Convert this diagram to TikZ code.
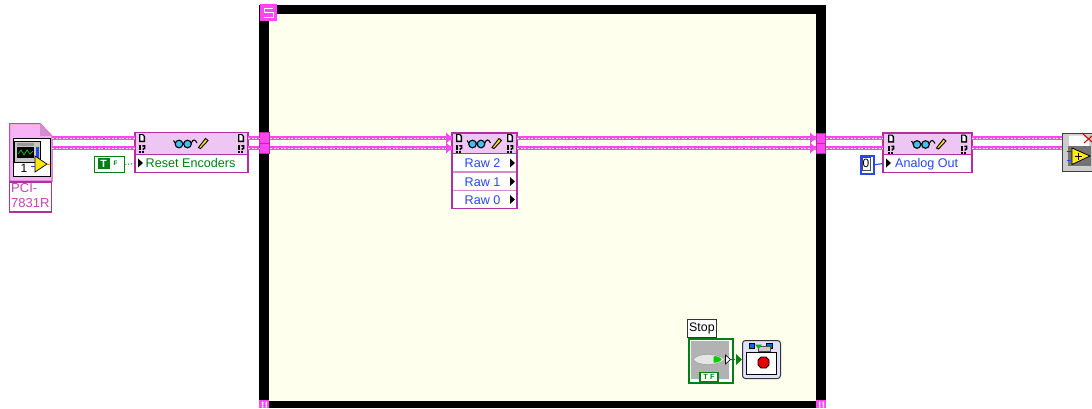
\documentclass[tikz,border=0pt]{standalone}
\usepackage{fontspec}
\setmainfont{Liberation Sans}
\usetikzlibrary{arrows.meta,calc}
\definecolor{refpink}{RGB}{255,70,240}
\definecolor{refborder}{RGB}{176,48,160}
\definecolor{refhead}{RGB}{238,198,243}
\definecolor{refpanel}{RGB}{255,255,238}
\definecolor{refgreen}{RGB}{0,128,20}
\definecolor{refblue}{RGB}{40,70,235}
\definecolor{reflabel}{RGB}{190,70,180}
\tikzset{
  x=1pt,y=-1pt,
  box/.style={draw=refborder,line width=1.1pt,inner sep=0,outer sep=0,anchor=north west},
  headbox/.style={box,fill=refhead},
  rowbox/.style={box,fill=white},
  tunnelbox/.style={draw=refborder,fill=refpink,line width=.7pt,inner sep=0,outer sep=0,anchor=north west,minimum width=10pt,minimum height=10.5pt},
  rowtext/.style={font=\fontsize{12.6}{14}\selectfont,inner sep=0,anchor=base west},
  wirebase/.style={draw=refpink,line width=4.4pt},
  wiretop/.style={draw=white!85!refpink,line width=1pt,dash pattern=on 2pt off 1.5pt},
  tip/.style={fill=black,draw=none},
  pics/cornerglyph/.style={code={
      \fill[black] (-3,-9) -- (1,-9) -- (3,-7) -- (3,-1) -- (-3,-1) -- cycle;
      \fill[white] (-1.6,-7.8) -- (.4,-7.8) -- (1.7,-6.4) -- (1.7,-2.3) -- (-1.6,-2.3) -- cycle;
      \fill[black] (-3.2,2) rectangle (-1.2,7);
      \fill[black] (-3.2,8) rectangle (-1.2,10);
      \draw[black,line width=1.4pt] (.3,2.8) -- (2.6,2.8) -- (2.6,5.4) -- (1.2,5.9) -- (1.2,7);
      \fill[black] (.3,8) rectangle (2.2,10);
  }},
  pics/glasses/.style={code={
    \draw[black,fill=cyan!75!white,line width=1.1pt] (-12,1) circle (3.8) (-3.5,1) circle (3.8);
    \draw[black,line width=1.1pt] (-8.2,0) -- (-7.3,0) (-15.8,0) -- (-17.5,-2.5) (.3,0) .. controls (2,-4) and (4,-4) .. (6,0);
    \fill[yellow!90!orange,draw=black,line width=.9pt] (7.5,4.5) -- (9.5,5.5) -- (17,-2.5) -- (14.5,-4.5) -- cycle;
  }},
}
\begin{document}
\begin{tikzpicture}
\useasboundingbox (0,0) rectangle (1092,408);
\fill[white] (0,0) rectangle (1092,408);

% while loop frame
\node[draw=none,fill=black,inner sep=0,outer sep=0,anchor=north west,minimum width=567pt,minimum height=403pt] (loop) at (259,5) {};
\node[fill=refpanel,inner sep=0,anchor=north west,minimum width=547pt,minimum height=387pt] (panel) at (269,14) {};
\node[fill=refpink,inner sep=0,anchor=north west,minimum width=17pt,minimum height=17pt] (seq) at (260,4) {};
\draw[white,line width=.9pt] (273,8) -- (264,8) -- (264,12) -- (273,12) -- (273,17) -- (264,17);
\node[fill=refpink,inner sep=0,anchor=north west,minimum width=10pt,minimum height=8pt] (condL) at (259,400) {};
\node[fill=refpink,inner sep=0,anchor=north west,minimum width=10pt,minimum height=8pt] (condR) at (816,400) {};
\foreach \xx in {261.8,265.5,818.8,822.5}{\fill[white] (\xx,401.5) rectangle +(1.5,4) (\xx,406) rectangle +(1.5,1.5);}

% tunnels
\node[tunnelbox] (tL1) at (259,132.5) {};
\node[tunnelbox] (tL2) at (259,143) {};
\node[tunnelbox,minimum width=9.5pt] (tR1) at (816,133) {};
\node[tunnelbox,minimum width=9.5pt] (tR2) at (816,143) {};

% open reference
\fill[refhead!70!refpink!80!white,draw=refborder!85!white,line width=1pt] (9.5,123.5) -- (40,123.5) -- (52,136) -- (52,181) -- (9.5,181) -- cycle;
\fill[refhead!60!refborder] (40,123.5) -- (40,136) -- (52,136) -- cycle;
\node[draw=black,fill=white,line width=1.2pt,inner sep=0,anchor=north west,minimum width=37pt,minimum height=38pt] (openref) at (12.5,138) {};
\fill[gray!45,draw=black,line width=.8pt] (14.5,141) rectangle (40,162);
\fill[black] (17,147) rectangle (34,158);
\draw[green!80!black,line width=.7pt] (18,154) -- (21,150) -- (24,155) -- (27,150) -- (30,154) -- (33,151);
\fill[gray!80] (17,143) rectangle (34,145.5);
\fill[refblue] (35.5,147) rectangle (38.5,159);
\fill[yellow!90!orange,draw=black,line width=.7pt] (35,156) -- (47,164) -- (35,172) -- cycle;
\draw[refblue,line width=.8pt] (31,166) -- (35,166);
\draw[orange,line width=.8pt] (47,164) -- (50,164);
\node[font=\fontsize{12}{12}\selectfont,inner sep=0] (one) at (24,168) {1};
\node[box,fill=white,minimum width=42pt,minimum height=30pt] (lblbox) at (9.5,182) {};
\node[font=\fontsize{13}{15.5}\selectfont,text=reflabel,inner sep=0,anchor=north west,align=left] (lbl) at (11,183) {PCI-\\7831R};

% property node 1
\node[headbox,minimum width=113pt,minimum height=22pt] (p1h) at (135,132.5) {};
\node[rowbox,minimum width=113pt,minimum height=18pt] (p1r) at (135,154.5) {};
\pic at (142,143) {cornerglyph};
\pic at (241,143) {cornerglyph};
\pic at (191,143) {glasses};
\fill[tip] (138,158.5) -- (143,163) -- (138,167.5) -- cycle;
\node[rowtext,text=refgreen] (p1t) at (145.5,167.5) {Reset Encoders};

% property node 2
\node[headbox,minimum width=65pt,minimum height=20.5pt] (p2h) at (452,133) {};
\node[rowbox,minimum width=65pt,minimum height=18.5pt] (p2a) at (452,153.5) {};
\node[rowbox,minimum width=65pt,minimum height=18.5pt] (p2b) at (452,172) {};
\node[rowbox,minimum width=65pt,minimum height=18pt] (p2c) at (452,190.5) {};
\draw[refborder!55!white,line width=1.1pt] ($(p2b.north west)+(.6,0)$) -- ($(p2b.north east)+(-.6,0)$);
\draw[refborder!55!white,line width=1.1pt] ($(p2c.north west)+(.6,0)$) -- ($(p2c.north east)+(-.6,0)$);
\pic at (459,143) {cornerglyph};
\pic at (510,143) {cornerglyph};
\pic at (484.5,143) {glasses};
\node[rowtext,text=refblue] (r2) at (464.5,167.5) {Raw 2};
\node[rowtext,text=refblue] (r1) at (464.5,186) {Raw 1};
\node[rowtext,text=refblue] (r0) at (464.5,204.5) {Raw 0};
\foreach \yy in {163,181.5,199.5}{\fill[tip] (510,\yy-4.5) -- (515,\yy) -- (510,\yy+4.5) -- cycle;}

% property node 3
\node[headbox,minimum width=89pt,minimum height=21.5pt] (p3h) at (883,133) {};
\node[rowbox,minimum width=89pt,minimum height=18pt] (p3r) at (883,154.5) {};
\pic at (891,143.5) {cornerglyph};
\pic at (964,143.5) {cornerglyph};
\pic at (929,143.5) {glasses};
\fill[tip] (886,158.5) -- (891,163) -- (886,167.5) -- cycle;
\node[rowtext,text=refblue] (p3t) at (895,167.5) {Analog Out};

% close reference
\node[draw=black!75,fill=gray!40,line width=1.1pt,inner sep=0,anchor=north west,minimum width=32pt,minimum height=38pt] (close) at (1062,132.5) {};
\fill[white] (1069,135.5) -- (1083,135.5) -- (1089,141) -- (1089,166) -- (1069,166) -- cycle;
\draw[red!80!black,line width=1pt] (1082,133) -- (1092,142) (1084,143) -- (1092,136);
\fill[black!55] (1068,146) rectangle (1091,166);
\fill[yellow!95!orange,draw=black,line width=.8pt] (1072,148) -- (1090,156) -- (1072,164.5) -- cycle;
\draw[black,line width=.9pt] (1074.5,156) -- (1081.5,156) (1078,152.5) -- (1078,159.5);
\draw[red!75!black,line width=1.2pt] (1066.5,151.5) -- (1072,151.5);
\draw[refblue,line width=1.2pt] (1066.5,160.5) -- (1072,160.5);

% boolean T constant
\node[draw=refgreen,fill=white,line width=1.8pt,inner sep=0,anchor=north west,minimum width=30pt,minimum height=16pt] (tconst) at (93.5,155.5) {};
\node[fill=refgreen,text=white,font=\bfseries\fontsize{10.5}{10.5}\selectfont,inner sep=0,minimum width=12pt,minimum height=11pt] (tlabel) at (103.5,163.5) {T};
\node[text=refgreen,font=\bfseries\fontsize{6.5}{6.5}\selectfont,inner sep=0] (tf) at (115.5,163.5) {F};

% numeric constant
\node[draw=refblue,fill=white,line width=2pt,inner sep=0,anchor=north west,minimum width=13pt,minimum height=17.5pt] (nconst) at (859.5,155) {};
\node[draw=black!70,line width=.5pt,font=\fontsize{12}{12}\selectfont,inner sep=0,minimum width=8pt,minimum height=12.5pt] (zero) at (866,163.8) {0};

% stop control
\node[draw=black!80,fill=white,line width=.9pt,inner sep=0,anchor=north west,minimum width=29pt,minimum height=18pt,font=\fontsize{12.4}{12}\selectfont] (stoplbl) at (687,319) {Stop};
\node[draw=refgreen,fill=white,line width=2pt,inner sep=0,anchor=north west,minimum width=44pt,minimum height=44pt] (stopb) at (688,338) {};
\fill[gray!60] (691,341) rectangle (729,372);
\fill[gray!60] (691,372) rectangle (700,379) (718,372) rectangle (729,379);
\fill[gray!20,draw=gray!70,line width=.8pt] (693,359.5) .. controls (697,352.5) and (718,352.5) .. (725,359.5) .. controls (718,366.5) and (697,366.5) .. (693,359.5) -- cycle;
\fill[green!80!black] (713.5,356.5) .. controls (716,355.5) and (720,357) .. (721.5,359.5) .. controls (720,362) and (716,363) .. (713.5,362.5) -- cycle;
\fill[white,draw=black,line width=.6pt] (725.5,355) -- (730.5,359.5) -- (725.5,364) -- cycle;
\node[draw=refgreen,fill=white,text=refgreen,line width=1.2pt,font=\bfseries\fontsize{7.5}{7.5}\selectfont,inner sep=0,minimum width=18pt,minimum height=9pt] (stoptf) at (709,377) {T F};

% loop condition
\node[draw=black!80,fill=blue!12,line width=1pt,rounded corners=3pt,inner sep=0,anchor=north west,minimum width=38pt,minimum height=38pt] (cond) at (742,340) {};
\fill[white,draw=black,line width=.8pt] (746,352) rectangle (776,374);
\fill[blue!60!cyan,draw=black,line width=.3pt] (749,343.5) rectangle (754,348) (766,343.5) rectangle (772,348);
\fill[gray!40,draw=black!70,line width=.3pt] (758,346) rectangle (770,351);
\fill[green!70!black] (755,344.5) -- (762,344.5) -- (758.5,349) -- cycle;
\fill[red!90!black,draw=black,line width=.8pt] (761,357) -- (766,357) -- (769,360) -- (769,365) -- (766,368) -- (761,368) -- (758,365) -- (758,360) -- cycle;

% wires
\coordinate (oa) at (52,138); \coordinate (ob) at (52,148);
\coordinate (p1a) at (135,138); \coordinate (p1b) at (135,148);
\coordinate (p1c) at (248,138); \coordinate (p1d) at (248,148);
\coordinate (p2l1) at (452,138); \coordinate (p2l2) at (452,148);
\coordinate (p2r1) at (517,138); \coordinate (p2r2) at (517,148);
\coordinate (p3l1) at (883,138); \coordinate (p3l2) at (883,148);
\coordinate (p3r1) at (972,138); \coordinate (p3r2) at (972,148);
\coordinate (c1) at (1062,138); \coordinate (c2) at (1062,148);
\coordinate (tl1) at (270,138); \coordinate (tl2) at (270,148);
\coordinate (tr1) at (816,138); \coordinate (tr2) at (816,148);
\coordinate (tro1) at (826,138); \coordinate (tro2) at (826,148);
\coordinate (tlo1) at (259,138); \coordinate (tlo2) at (259,148);
\foreach \ww/\zz in {oa/p1a,ob/p1b,p1c/tlo1,p1d/tlo2,tl1/p2l1,tl2/p2l2,p2r1/tr1,p2r2/tr2,tro1/p3l1,tro2/p3l2,p3r1/c1,p3r2/c2}{
  \draw[wirebase] (\ww) -- (\zz);
  \draw[wiretop] (\ww) -- (\zz);
}
% wire end arrows
\foreach \yy in {138,148}{
  \fill[refpink] (446,\yy-5.5) -- (452,\yy) -- (446,\yy+5.5) -- cycle;
  \fill[refpink] (810,\yy-5.5) -- (816,\yy) -- (810,\yy+5.5) -- cycle;
}

% thin wires
\draw[refgreen,line width=.9pt,dotted] (tconst.east) -- (p1r.west);
\draw[refblue,line width=1.1pt] (nconst.east) -- (p3r.west);
\draw[refgreen,line width=.9pt,dotted] (731,359.5) -- (cond.west);
\fill[refgreen] (736,354) -- (742,359.5) -- (736,365) -- cycle;
\end{tikzpicture}
\end{document}
